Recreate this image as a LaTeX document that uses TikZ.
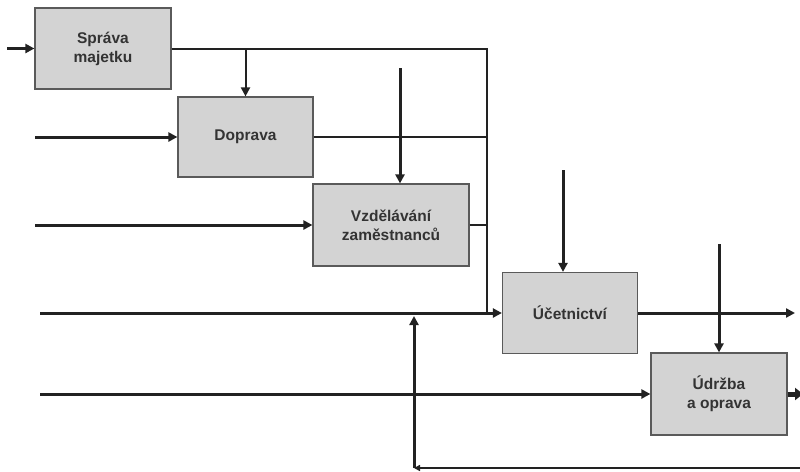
\documentclass[tikz,border=0pt]{standalone}
\usepackage{fontspec}
\setmainfont{Liberation Sans}
\usetikzlibrary{arrows.meta}
\definecolor{boxfill}{HTML}{D3D3D3}
\definecolor{boxline}{HTML}{5A5A5A}
\definecolor{ink}{HTML}{222222}
\definecolor{txt}{HTML}{333333}
\tikzset{
  proc/.style={draw=boxline, line width=1.2pt, fill=boxfill, inner sep=0pt,
    align=center, font=\bfseries\fontsize{15.5}{19}\selectfont, text=txt},
  flow/.style={draw=ink, line width=3pt},
  thin flow/.style={draw=ink, line width=2pt},
  tip/.style={-{Triangle[length=9pt,width=9pt]}},
}
\begin{document}
\begin{tikzpicture}[x=1pt,y=-1pt]
\useasboundingbox (0,0) rectangle (800,471);

% process boxes
\node[proc, minimum width=136pt, minimum height=81pt] (sprava) at (103,48.5) {Správa\\majetku};
\node[proc, minimum width=135pt, minimum height=80pt] (doprava) at (245.5,137) {Doprava};
\node[proc, minimum width=156pt, minimum height=82pt] (vzdel) at (391,225) {Vzdělávání\\zaměstnanců};
\node[proc, minimum width=135pt, minimum height=81pt] (ucet) at (570,313) {Účetnictví};
\node[proc, minimum width=136pt, minimum height=82pt] (udrzba) at (719,394) {Údržba\\a oprava};

% free ends of the flows
\coordinate (inA) at (7,48.5);
\coordinate (inB) at (35,137);
\coordinate (inC) at (35,225);
\coordinate (inD) at (40,313);
\coordinate (inE) at (40,394);
\coordinate (bus) at (487,49);
\coordinate (busEnd) at (487,313);
\coordinate (topC) at (400,68);
\coordinate (topD) at (563,170);
\coordinate (topE) at (719,244);
\coordinate (outD) at (795,313);
\coordinate (outE) at (803,394);
\coordinate (fbRight) at (803,468);
\coordinate (fbCorner) at (414,468);
\coordinate (fbTop) at (414,316);

% inputs on the left
\draw[flow, tip] (inA) -- (sprava.west);
\draw[flow, tip] (inB) -- (doprava.west);
\draw[flow, tip] (inC) -- (vzdel.west);
\draw[flow, tip] (inD) -- (ucet.west);
\draw[flow, tip] (inE) -- (udrzba.west);

% collecting line on the right of the first three boxes
\draw[thin flow] (sprava.east |- bus) -- (bus) -- (busEnd);
\draw[thin flow, tip] (doprava.north |- bus) -- (doprava.north);
\draw[thin flow] (doprava.east) -- (doprava.east -| bus);
\draw[thin flow] (vzdel.east) -- (vzdel.east -| bus);

% inputs from above
\draw[flow, tip] (topC) -- (topC |- vzdel.north);
\draw[flow, tip] (topD) -- (topD |- ucet.north);
\draw[flow, tip] (topE) -- (udrzba.north);

% outputs
\draw[flow, tip] (ucet.east) -- (outD);
\draw[draw=ink, line width=5pt, -{Triangle[length=8pt,width=12pt]}] (udrzba.east) -- (outE);

% feedback loop along the bottom
\draw[thin flow, line width=2.5pt, -{Triangle[length=6pt,width=6pt]}] (fbRight) -- (fbCorner);
\draw[flow, tip] (fbCorner) -- (fbTop);
\end{tikzpicture}
\end{document}
